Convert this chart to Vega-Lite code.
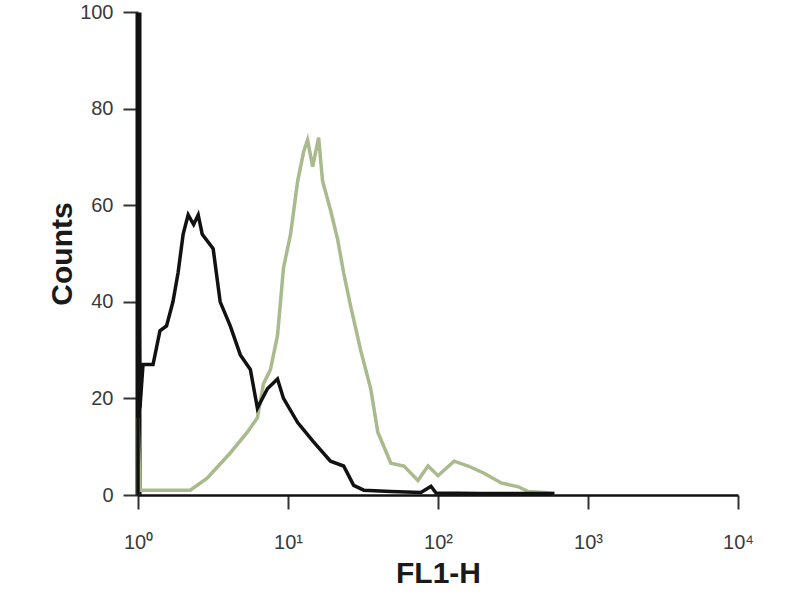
{
  "$schema": "https://vega.github.io/schema/vega-lite/v6.json",
  "width": 600,
  "height": 483,
  "autosize": "none",
  "padding": {"left": 138, "top": 12, "right": 62, "bottom": 105},
  "background": "white",
  "config": {
    "view": {"stroke": null},
    "axis": {"grid": false, "labelFont": "Liberation Sans", "titleFont": "Liberation Sans", "labelColor": "#3a3a3a", "domainColor": "#111", "tickColor": "#333"}
  },
  "datasets": {
    "black": [
      {"i": 0, "x": 1, "y": 0},
      {"i": 1, "x": 1, "y": 64},
      {"i": 2, "x": 1.03, "y": 18},
      {"i": 3, "x": 1.08, "y": 27},
      {"i": 4, "x": 1.26, "y": 27},
      {"i": 5, "x": 1.4, "y": 34},
      {"i": 6, "x": 1.55, "y": 35},
      {"i": 7, "x": 1.71, "y": 40},
      {"i": 8, "x": 1.85, "y": 46},
      {"i": 9, "x": 2.0, "y": 54},
      {"i": 10, "x": 2.16, "y": 58},
      {"i": 11, "x": 2.35, "y": 56},
      {"i": 12, "x": 2.52, "y": 58},
      {"i": 13, "x": 2.68, "y": 54},
      {"i": 14, "x": 3.17, "y": 51},
      {"i": 15, "x": 3.53, "y": 40},
      {"i": 16, "x": 4.12, "y": 35},
      {"i": 17, "x": 4.81, "y": 29},
      {"i": 18, "x": 5.61, "y": 26},
      {"i": 19, "x": 6.25, "y": 18},
      {"i": 20, "x": 7.29, "y": 22},
      {"i": 21, "x": 8.51, "y": 24},
      {"i": 22, "x": 9.33, "y": 20},
      {"i": 23, "x": 11.6, "y": 15},
      {"i": 24, "x": 14.8, "y": 11},
      {"i": 25, "x": 19.2, "y": 7},
      {"i": 26, "x": 23.5, "y": 6},
      {"i": 27, "x": 27.4, "y": 2},
      {"i": 28, "x": 32.0, "y": 1},
      {"i": 29, "x": 48.5, "y": 0.7},
      {"i": 30, "x": 76.9, "y": 0.5},
      {"i": 31, "x": 89.8, "y": 1.8},
      {"i": 32, "x": 97.0, "y": 0.4},
      {"i": 33, "x": 194, "y": 0.3},
      {"i": 34, "x": 597, "y": 0.3}
    ],
    "green": [
      {"i": 0, "x": 1, "y": 0},
      {"i": 1, "x": 1, "y": 16},
      {"i": 2, "x": 1.03, "y": 1},
      {"i": 3, "x": 1.08, "y": 1},
      {"i": 4, "x": 2.23, "y": 1},
      {"i": 5, "x": 2.89, "y": 3.5},
      {"i": 6, "x": 4.12, "y": 8.7},
      {"i": 7, "x": 5.36, "y": 13},
      {"i": 8, "x": 6.25, "y": 16},
      {"i": 9, "x": 6.86, "y": 23},
      {"i": 10, "x": 7.64, "y": 26},
      {"i": 11, "x": 8.51, "y": 33},
      {"i": 12, "x": 9.33, "y": 47},
      {"i": 13, "x": 10.4, "y": 54},
      {"i": 14, "x": 11.6, "y": 65},
      {"i": 15, "x": 12.7, "y": 71},
      {"i": 16, "x": 13.5, "y": 73.5},
      {"i": 17, "x": 14.6, "y": 68},
      {"i": 18, "x": 16.0, "y": 74},
      {"i": 19, "x": 17.0, "y": 65},
      {"i": 20, "x": 19.2, "y": 59},
      {"i": 21, "x": 21.4, "y": 53},
      {"i": 22, "x": 23.5, "y": 46},
      {"i": 23, "x": 26.2, "y": 39},
      {"i": 24, "x": 30.5, "y": 30},
      {"i": 25, "x": 35.6, "y": 22},
      {"i": 26, "x": 39.7, "y": 13},
      {"i": 27, "x": 48.5, "y": 6.6},
      {"i": 28, "x": 59.3, "y": 6},
      {"i": 29, "x": 73.5, "y": 3},
      {"i": 30, "x": 85.8, "y": 6},
      {"i": 31, "x": 100, "y": 4},
      {"i": 32, "x": 128, "y": 7},
      {"i": 33, "x": 159, "y": 6},
      {"i": 34, "x": 203, "y": 4.5},
      {"i": 35, "x": 264, "y": 2.5},
      {"i": 36, "x": 343, "y": 1.7},
      {"i": 37, "x": 400, "y": 0.7},
      {"i": 38, "x": 512, "y": 0.5},
      {"i": 39, "x": 597, "y": 0.3}
    ]
  },
  "encoding": {
    "x": {
      "field": "x", "type": "quantitative",
      "scale": {"type": "log", "domain": [1, 10000], "nice": false},
      "axis": {
        "values": [1, 10, 100, 1000, 10000],
        "labelExpr": "'10' + ['⁰','¹','²','³','⁴'][round(log(datum.value)/LN10)]",
        "title": "FL1-H", "titleFontSize": 30, "titleFontWeight": "bold", "titleColor": "#1a1a1a",
        "titlePadding": 6,
        "labelFontSize": 20, "labelPadding": 23, "tickSize": 14, "tickWidth": 2, "domainWidth": 2.5,
        "labelFlush": false
      }
    },
    "y": {
      "field": "y", "type": "quantitative",
      "scale": {"domain": [0, 100], "nice": false},
      "axis": {
        "values": [0, 20, 40, 60, 80, 100],
        "title": "Counts", "titleFontSize": 30, "titleFontWeight": "bold", "titleColor": "#1a1a1a",
        "titlePadding": 2,
        "labelFontSize": 20, "labelPadding": 10, "tickSize": 15, "tickWidth": 2, "domainWidth": 6
      }
    },
    "order": {"field": "i", "type": "quantitative"}
  },
  "layer": [
    {"data": {"name": "green"}, "mark": {"type": "line", "color": "#a9ba8c", "strokeWidth": 3.5, "strokeJoin": "miter"}},
    {"data": {"name": "black"}, "mark": {"type": "line", "color": "#111111", "strokeWidth": 3.5, "strokeJoin": "miter"}}
  ]
}
